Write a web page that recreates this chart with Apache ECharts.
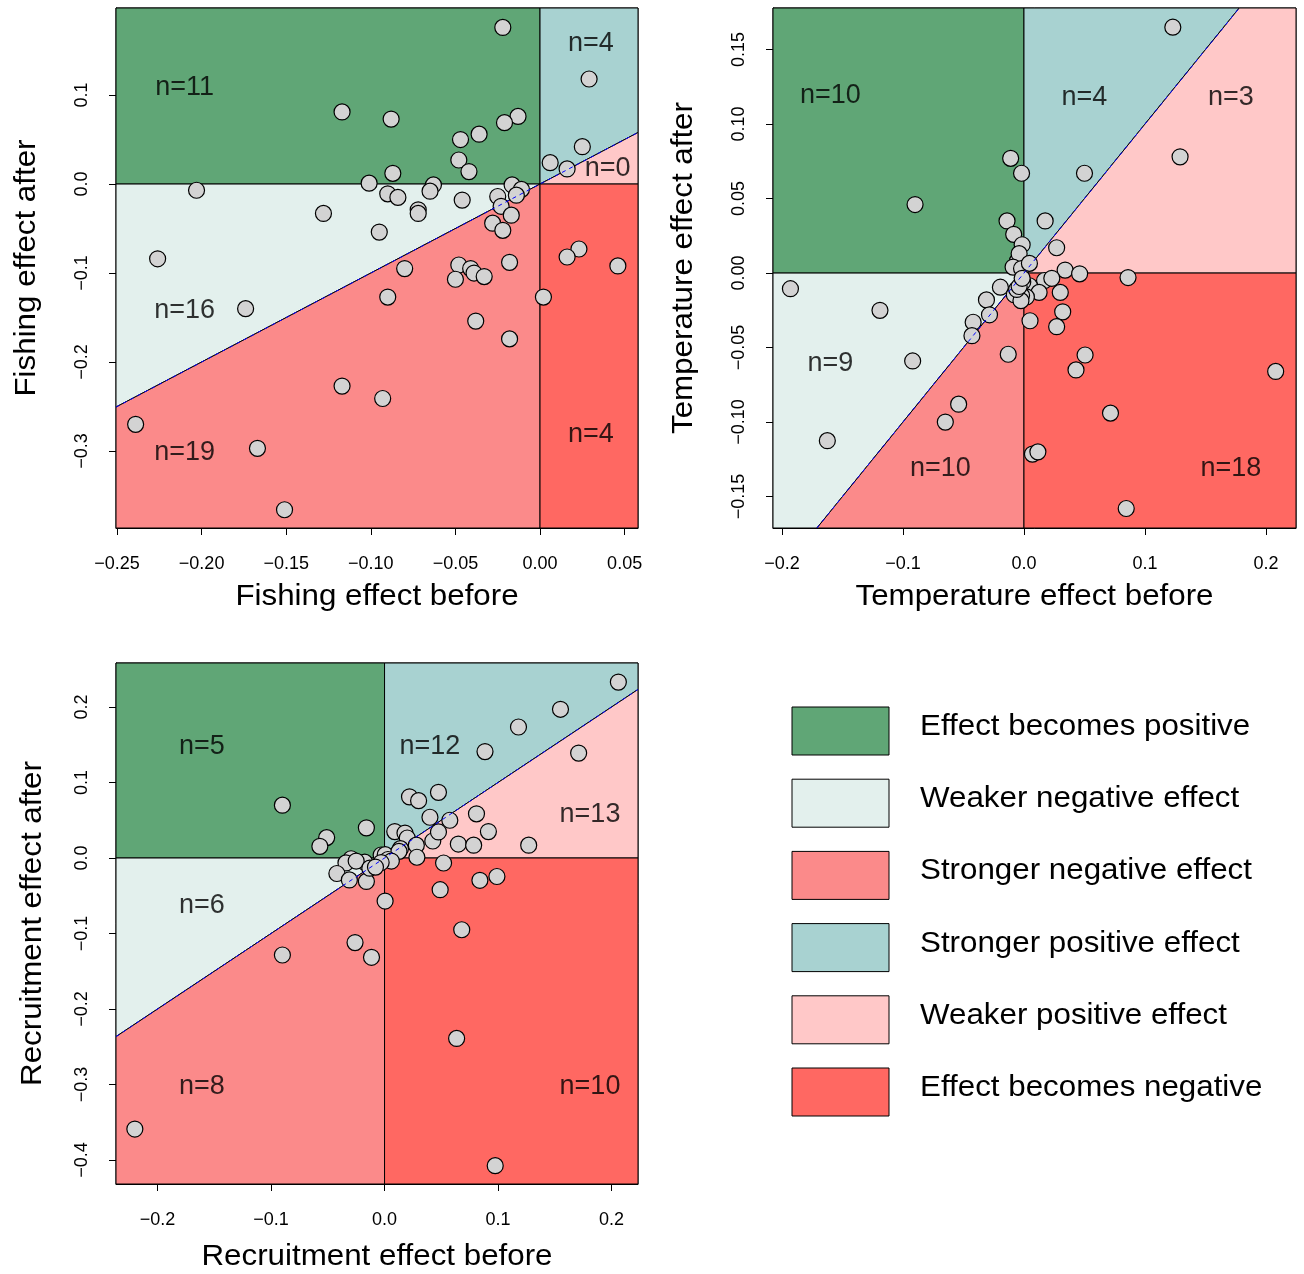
<!DOCTYPE html>
<html><head><meta charset="utf-8">
<script src="https://cdn.jsdelivr.net/npm/echarts@6/dist/echarts.min.js"></script>
<style>html,body{margin:0;padding:0;background:#fff}#c{width:1304px;height:1274px}</style>
</head><body><div id="c"></div>
<script>
// ---------------- DATA ----------------
const legendNames = ['Effect becomes positive','Weaker negative effect','Stronger negative effect','Stronger positive effect','Weaker positive effect','Effect becomes negative'];

// Panel 1: Fishing
const fishingBefore = [-0.022,-0.117,-0.088,-0.013,-0.021,-0.036,-0.047,-0.048,-0.042,-0.087,-0.101,
  0.029,0.025,0.006,0.016,
  0.023,0.016,0.046,0.002,
  -0.203,-0.063,-0.065,-0.0165,-0.011,-0.090,-0.084,-0.046,-0.025,-0.072,-0.072,-0.128,-0.095,-0.226,-0.174,-0.014,
  -0.023,-0.017,-0.028,-0.022,-0.080,-0.048,-0.041,-0.050,-0.039,-0.033,-0.018,-0.090,-0.038,-0.018,-0.117,-0.093,-0.239,-0.167,-0.151];
const fishingAfter = [0.176,0.081,0.073,0.076,0.069,0.056,0.050,0.027,0.014,0.012,0.001,
  0.118,0.042,0.024,0.017,
  -0.073,-0.082,-0.092,-0.127,
  -0.007,-0.001,-0.008,-0.001,-0.006,-0.011,-0.015,-0.018,-0.014,-0.029,-0.033,-0.033,-0.054,-0.084,-0.140,-0.0125,
  -0.025,-0.035,-0.044,-0.052,-0.095,-0.091,-0.095,-0.107,-0.100,-0.104,-0.088,-0.127,-0.154,-0.174,-0.227,-0.241,-0.270,-0.297,-0.366];
const fishingXTicks = [-0.25,-0.20,-0.15,-0.10,-0.05,0.00,0.05];
const fishingXLabels = ['\u22120.25','\u22120.20','\u22120.15','\u22120.10','\u22120.05','0.00','0.05'];
const fishingYTicks = [-0.3,-0.2,-0.1,0.0,0.1];
const fishingYLabels = ['\u22120.3','\u22120.2','\u22120.1','0.0','0.1'];
const fishingNX = [-0.21,0.030,0.040,-0.21,-0.21,0.030];
const fishingNY = [0.108,0.158,0.017,-0.142,-0.302,-0.282];
const fishingNText = ['n=11','n=4','n=0','n=16','n=19','n=4'];

// Panel 2: Temperature
const temperatureBefore = [-0.011,-0.002,-0.090,-0.014,-0.0085,-0.0015,-0.0055,-0.004,-0.009,-0.002,
  0.123,0.050,0.0175,0.0045,
  0.129,0.027,0.034,
  0.046,0.086,0.017,0.023,0.0045,0.0125,0.030,0.032,0.005,0.027,0.0505,0.043,0.208,0.0715,0.007,0.0115,0.0845,0.002,
  -0.193,-0.119,-0.092,-0.1625,-0.0195,-0.031,-0.042,-0.043,-0.0285,
  -0.013,-0.054,-0.065,-0.008,-0.002,-0.0025,-0.006,-0.001,-0.004,-0.0015];
const temperatureAfter = [0.077,0.067,0.046,0.035,0.026,0.019,0.008,0.013,0.004,0.003,
  0.165,0.067,0.035,0.0065,
  0.078,0.017,0.002,
  -0.0005,-0.003,-0.005,-0.0035,-0.0085,-0.013,-0.013,-0.026,-0.032,-0.036,-0.055,-0.065,-0.066,-0.094,-0.1215,-0.120,-0.158,-0.016,
  -0.0105,-0.025,-0.059,-0.1125,-0.0095,-0.018,-0.033,-0.042,-0.028,
  -0.0545,-0.088,-0.100,-0.0145,-0.015,-0.0185,-0.011,-0.006,-0.009,-0.0035];
const temperatureXTicks = [-0.2,-0.1,0.0,0.1,0.2];
const temperatureXLabels = ['\u22120.2','\u22120.1','0.0','0.1','0.2'];
const temperatureYTicks = [-0.15,-0.10,-0.05,0.00,0.05,0.10,0.15];
const temperatureYLabels = ['\u22120.15','\u22120.10','\u22120.05','0.00','0.05','0.10','0.15'];
const temperatureNX = [-0.160,0.050,0.171,-0.160,-0.069,0.171];
const temperatureNY = [0.119,0.118,0.118,-0.061,-0.131,-0.131];
const temperatureNText = ['n=10','n=4','n=3','n=9','n=10','n=18'];

// Panel 3: Recruitment
const recruitmentBefore = [-0.090,-0.016,-0.051,-0.057,-0.003,
  0.206,0.155,0.118,0.0885,0.022,0.030,0.0475,0.040,0.009,0.018,0.020,0.0006,
  0.171,0.0575,0.081,0.0915,0.127,0.065,0.0785,0.0425,0.0475,0.014,0.028,0.0285,0.0127,
  0.052,0.049,0.084,0.099,0.068,0.0635,0.0975,0.003,0.006,0.0005,
  -0.0295,-0.034,-0.0175,-0.042,-0.031,-0.025,
  -0.090,-0.026,-0.0115,-0.220,-0.016,-0.013,-0.003,-0.008];
const recruitmentAfter = [0.070,0.040,0.027,0.0155,0.004,
  0.233,0.197,0.1735,0.141,0.081,0.076,0.087,0.054,0.035,0.033,0.0265,0.0044,
  0.139,0.050,0.0585,0.035,0.017,0.0185,0.017,0.0225,0.0345,0.0124,0.017,0.001,0.0088,
  -0.0066,-0.042,-0.0295,-0.0245,-0.095,-0.239,-0.4075,-0.002,-0.004,-0.057,
  -0.001,-0.0065,-0.0055,-0.0205,-0.029,-0.004,
  -0.1285,-0.112,-0.1315,-0.359,-0.031,-0.0135,-0.006,-0.012];
const recruitmentXTicks = [-0.2,-0.1,0.0,0.1,0.2];
const recruitmentXLabels = ['\u22120.2','\u22120.1','0.0','0.1','0.2'];
const recruitmentYTicks = [-0.4,-0.3,-0.2,-0.1,0.0,0.1,0.2];
const recruitmentYLabels = ['\u22120.4','\u22120.3','\u22120.2','\u22120.1','0.0','0.1','0.2'];
const recruitmentNX = [-0.161,0.040,0.181,-0.161,-0.161,0.181];
const recruitmentNY = [0.148,0.148,0.058,-0.063,-0.303,-0.303];
const recruitmentNText = ['n=5','n=12','n=13','n=6','n=8','n=10'];

// ---------------- STYLE / LAYOUT ----------------
const FONT = '"Liberation Sans", Arial, Helvetica, sans-serif';
const regionColors = ['#60A676','#E3F0ED','#FB8A8A','#A8D2D1','#FFC8C8','#FF6862'];
const TITLE_SIZE = 29, TITLE_WIDE = 1.08;   // axis titles
const LEG_SIZE = 29, LEG_WIDE = 1.08;       // legend texts

const panels = [
  {before: fishingBefore, after: fishingAfter, xr:[-0.2506,0.0579], yr:[-0.3865,0.1978],
   xt: fishingXTicks, xl: fishingXLabels, yt: fishingYTicks, yl: fishingYLabels,
   nx: fishingNX, ny: fishingNY, nt: fishingNText,
   xName:'Fishing effect before', yName:'Fishing effect after',
   grid:{left:116, top:8, width:522, height:520}, xNameY:597, yNameX:27},
  {before: temperatureBefore, after: temperatureAfter, xr:[-0.2074,0.2248], yr:[-0.1711,0.1779],
   xt: temperatureXTicks, xl: temperatureXLabels, yt: temperatureYTicks, yl: temperatureYLabels,
   nx: temperatureNX, ny: temperatureNY, nt: temperatureNText,
   xName:'Temperature effect before', yName:'Temperature effect after',
   grid:{left:773, top:8, width:523, height:520}, xNameY:597, yNameX:684},
  {before: recruitmentBefore, after: recruitmentAfter, xr:[-0.2366,0.2233], yr:[-0.4318,0.2583],
   xt: recruitmentXTicks, xl: recruitmentXLabels, yt: recruitmentYTicks, yl: recruitmentYLabels,
   nx: recruitmentNX, ny: recruitmentNY, nt: recruitmentNText,
   xName:'Recruitment effect before', yName:'Recruitment effect after',
   grid:{left:116, top:663, width:522, height:521}, xNameY:1257, yNameX:33}
];

function clipHalf(poly, s){
  const out=[]; const n=poly.length;
  for(let i=0;i<n;i++){
    const a=poly[i], b=poly[(i+1)%n];
    const fa=s*(a[1]-a[0]), fb=s*(b[1]-b[0]);
    if(fa>=0) out.push(a);
    if((fa>=0)!==(fb>=0)){
      const t=fa/(fa-fb);
      out.push([a[0]+t*(b[0]-a[0]), a[1]+t*(b[1]-a[1])]);
    }
  }
  return out;
}
function regionPoly(k, xr, yr){
  const [x0,x1]=xr, [y0,y1]=yr;
  const q2=[[x0,0],[0,0],[0,y1],[x0,y1]];
  const q4=[[0,y0],[x1,y0],[x1,0],[0,0]];
  const q3=[[x0,y0],[0,y0],[0,0],[x0,0]];
  const q1=[[0,0],[x1,0],[x1,y1],[0,y1]];
  switch(k){
    case 0: return q2;
    case 1: return clipHalf(q3, 1);
    case 2: return clipHalf(q3, -1);
    case 3: return clipHalf(q1, 1);
    case 4: return clipHalf(q1, -1);
    case 5: return q4;
  }
}
function fmt(ticks, labels){
  return v => { const i=ticks.findIndex(t=>Math.abs(t-v)<1e-9); return i>=0?labels[i]:''; };
}
function wideText(text, x, y, align, rotation, size, wide){
  return {type:'text', x:x, y:y, scaleX:wide, rotation:rotation||0, silent:true, z:10,
    style:{text:text, font:size + 'px ' + FONT, fill:'#000', align:align, verticalAlign:'middle',
           textAlign:align, textVerticalAlign:'middle'}};
}

const grids=[], xAxes=[], yAxes=[], series=[], graphics=[];
panels.forEach((p, i) => {
  grids.push(Object.assign({show:true, borderColor:'#000', borderWidth:1, backgroundColor:'transparent'}, p.grid));
  xAxes.push({type:'value', gridIndex:i, min:p.xr[0], max:p.xr[1],
    axisLine:{show:true, onZero:false, lineStyle:{color:'#000', width:1}},
    axisTick:{show:true, length:7, customValues:p.xt, lineStyle:{color:'#000'}},
    axisLabel:{show:true, customValues:p.xt, formatter:fmt(p.xt,p.xl), margin:27, fontSize:18, fontFamily:FONT, color:'#000'},
    splitLine:{show:false}});
  yAxes.push({type:'value', gridIndex:i, min:p.yr[0], max:p.yr[1],
    axisLine:{show:true, onZero:false, lineStyle:{color:'#000', width:1}},
    axisTick:{show:true, length:7, customValues:p.yt, lineStyle:{color:'#000'}},
    axisLabel:{show:true, customValues:p.yt, formatter:fmt(p.yt,p.yl), rotate:90, margin:25, fontSize:18, fontFamily:FONT, color:'#000'},
    splitLine:{show:false}});
  graphics.push(wideText(p.xName, p.grid.left + p.grid.width/2, p.xNameY, 'center', 0, TITLE_SIZE, TITLE_WIDE));
  graphics.push(wideText(p.yName, p.yNameX, p.grid.top + p.grid.height/2, 'center', Math.PI/2, TITLE_SIZE, TITLE_WIDE));
  for(let k=0;k<6;k++){
    const verts = regionPoly(k, p.xr, p.yr);
    series.push({type:'custom', name:legendNames[k], xAxisIndex:i, yAxisIndex:i, z:1, silent:true,
      itemStyle:{color:regionColors[k]}, clip:false, data:[[0,0]],
      renderItem:(params, api) => ({type:'polygon', shape:{points: verts.map(v=>api.coord(v))},
        style:{fill:regionColors[k], stroke:'#000', lineWidth:1}})});
  }
  series.push({type:'scatter', xAxisIndex:i, yAxisIndex:i, z:3, silent:true, symbolSize:16,
    itemStyle:{color:'#D3D3D3', borderColor:'#000', borderWidth:1.2, opacity:1},
    data:p.before.map((b,j)=>[b,p.after[j]])});
  const lo=Math.max(p.xr[0],p.yr[0]), hi=Math.min(p.xr[1],p.yr[1]);
  series.push({type:'line', xAxisIndex:i, yAxisIndex:i, z:4, silent:true, symbol:'none',
    lineStyle:{color:'#0000FF', width:1, type:[4,4]}, data:[[lo,lo],[hi,hi]]});
  series.push({type:'scatter', xAxisIndex:i, yAxisIndex:i, z:5, silent:true, symbolSize:0,
    label:{show:true, position:'inside', formatter:pr=>pr.data[2], fontSize:27, fontFamily:FONT, color:'#000'},
    data:p.nx.map((x,j)=>[x,p.ny[j],p.nt[j]])});
});

legendNames.forEach((name, k) => {
  graphics.push({type:'rect', x:792, y:707 + 72.2*k, shape:{x:0, y:0, width:97, height:48}, silent:true, z:10,
    style:{fill:regionColors[k], stroke:'#000', lineWidth:1}});
  graphics.push(wideText(name, 920, 727 + 72.2*k, 'left', 0, LEG_SIZE, LEG_WIDE));
});

const chart = echarts.init(document.getElementById('c'), null, {renderer:'canvas'});
chart.setOption({
  animation:false,
  backgroundColor:'#fff',
  grid:grids, xAxis:xAxes, yAxis:yAxes, series:series,
  graphic:{elements:graphics}
});
</script>
</body></html>
